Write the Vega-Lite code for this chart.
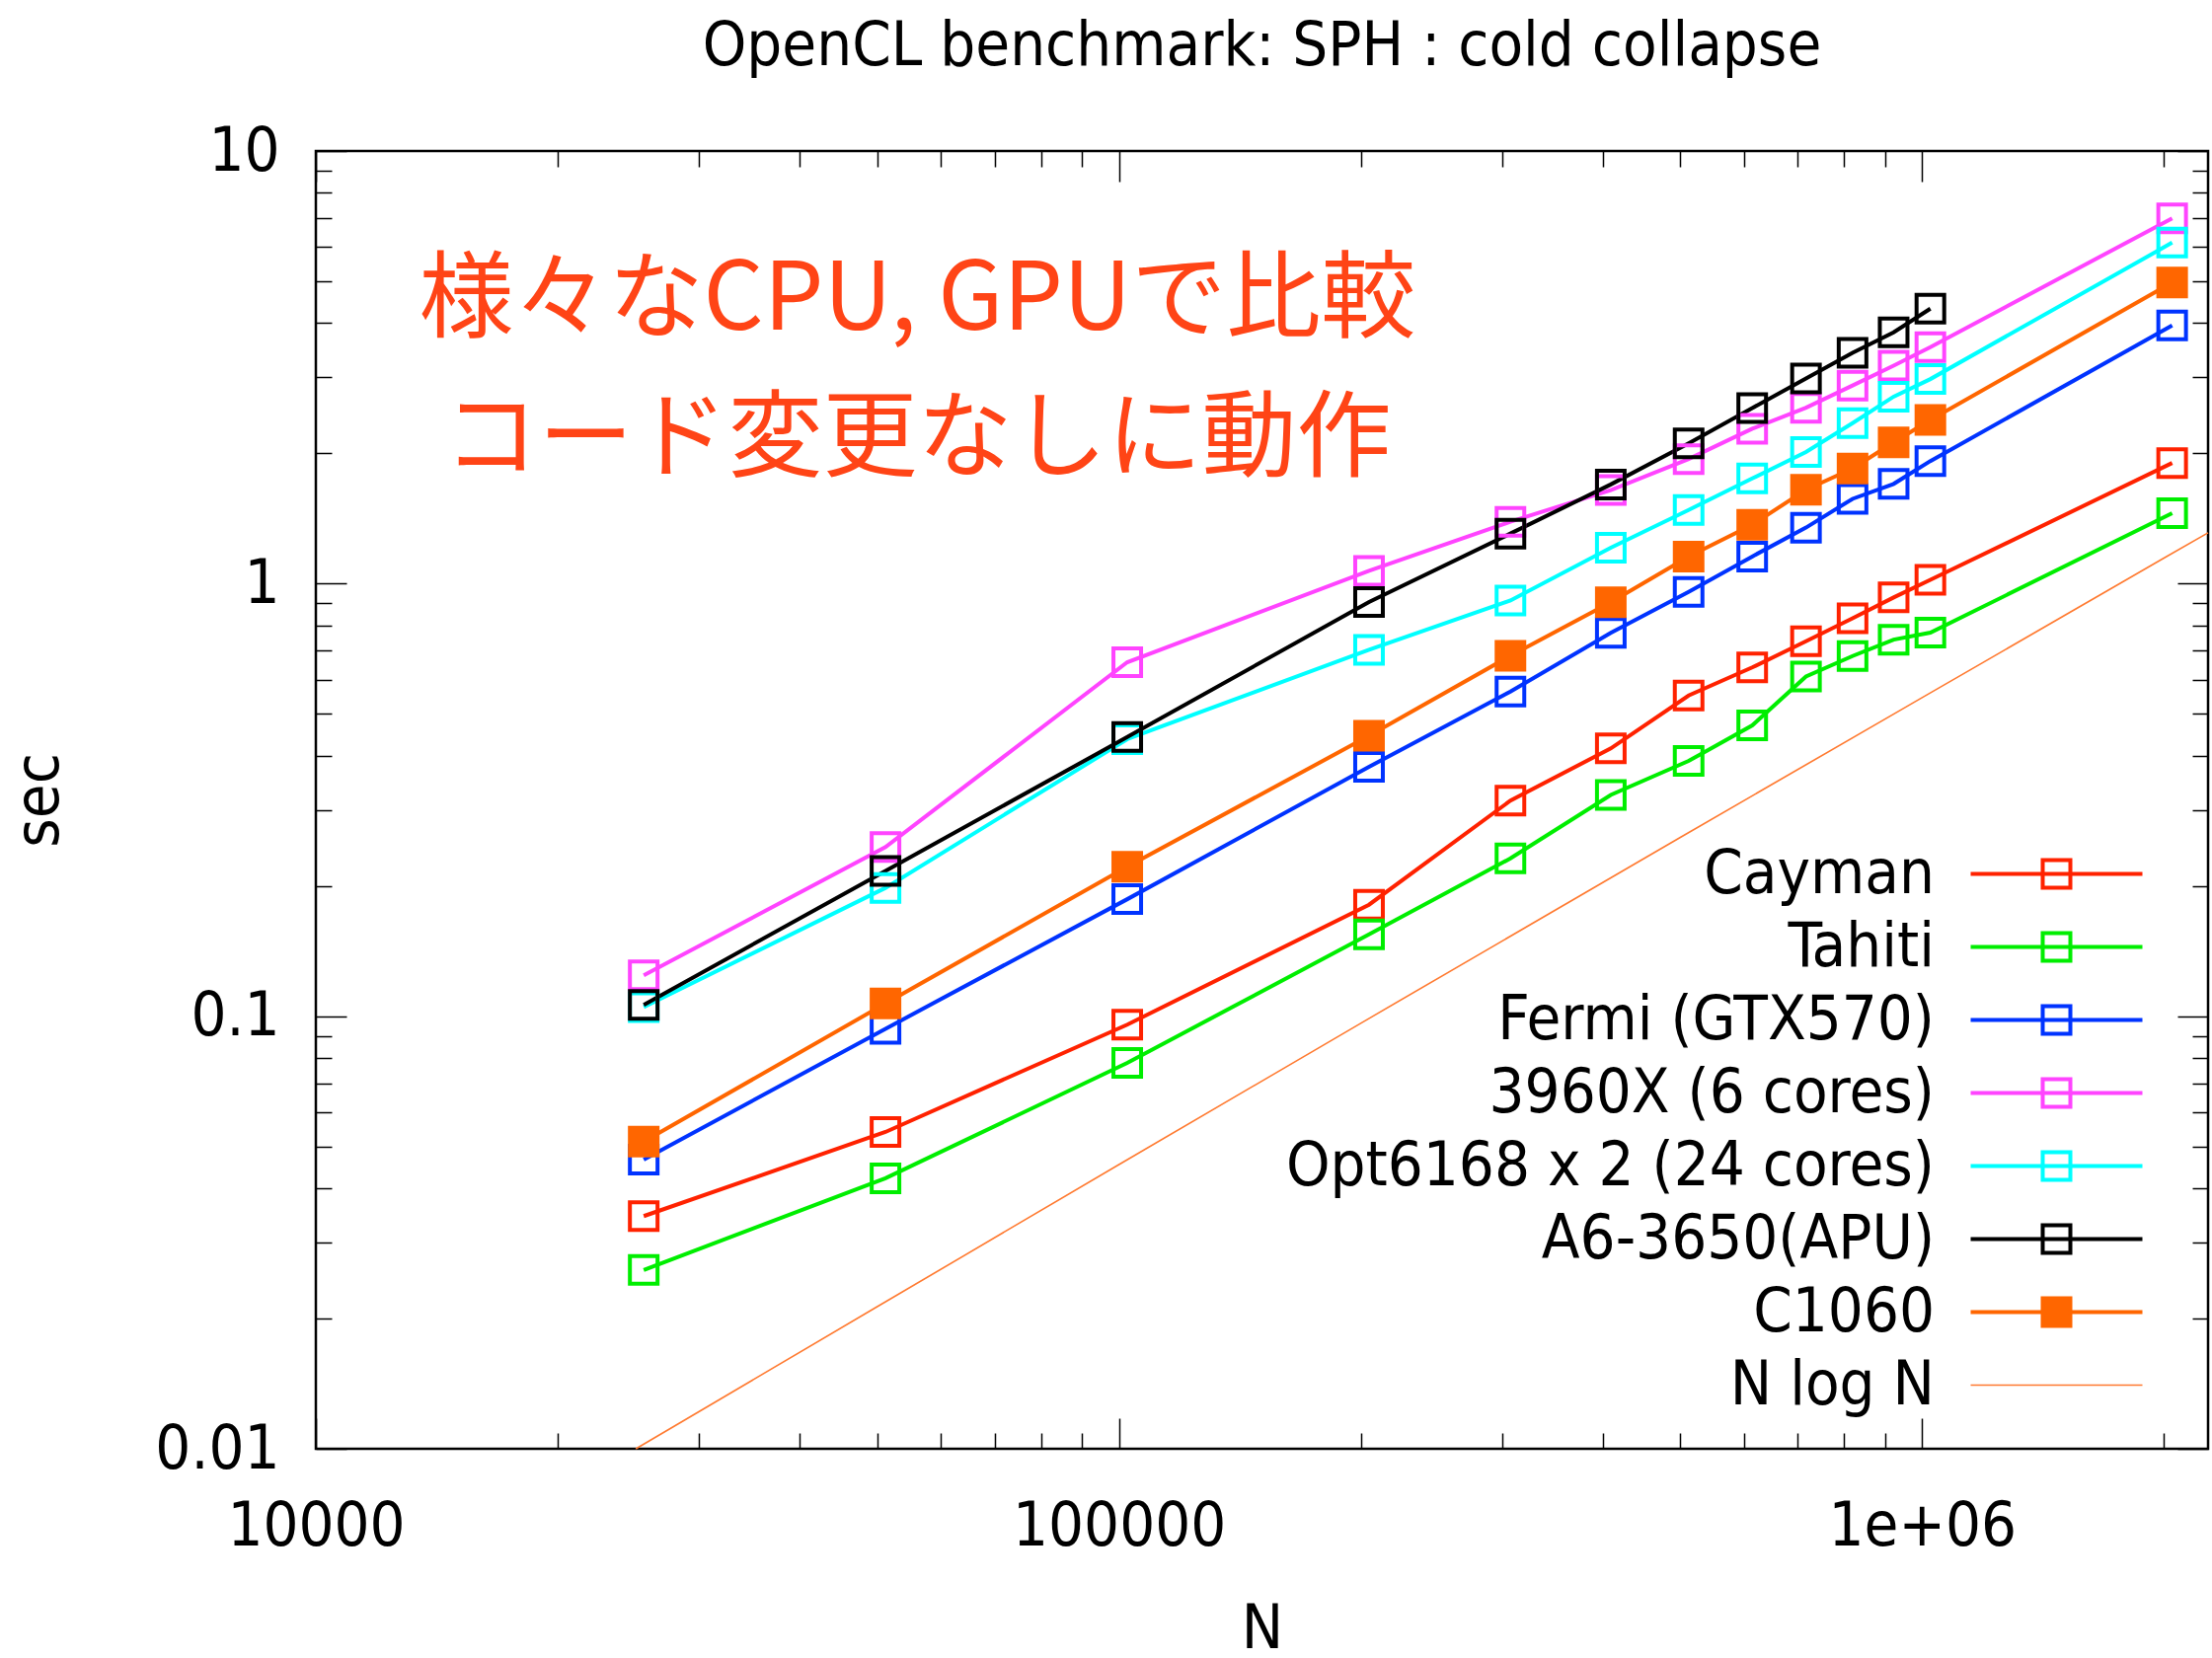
{
  "$schema": "https://vega.github.io/schema/vega-lite/v6.json",
  "width": 1917,
  "height": 1315,
  "autosize": {"type": "none"},
  "padding": {"left": 320, "top": 153, "right": 4, "bottom": 212},
  "background": "white",
  "title": {
    "text": "OpenCL benchmark: SPH : cold collapse",
    "font": "DejaVu Sans Condensed, Liberation Sans",
    "fontSize": 63,
    "fontWeight": "normal",
    "color": "black",
    "anchor": "middle",
    "offset": 43
  },
  "config": {
    "view": {"stroke": "black", "strokeWidth": 2.5},
    "axis": {
      "domain": false,
      "grid": false,
      "tickColor": "black",
      "tickWidth": 1.5,
      "labelFont": "DejaVu Sans Condensed, Liberation Sans",
      "labelFontSize": 63,
      "labelColor": "black",
      "labelLimit": 1000,
      "titleFont": "DejaVu Sans Condensed, Liberation Sans",
      "titleFontSize": 63,
      "titleFontWeight": "normal",
      "titleColor": "black",
      "labelFlush": false,
      "labelOverlap": false
    }
  },
  "datasets": {
    "bench": [
      {"series": "Cayman", "N": 25600, "sec": 0.0345},
      {"series": "Cayman", "N": 51200, "sec": 0.054},
      {"series": "Cayman", "N": 102400, "sec": 0.0956},
      {"series": "Cayman", "N": 204800, "sec": 0.181},
      {"series": "Cayman", "N": 307200, "sec": 0.315},
      {"series": "Cayman", "N": 409600, "sec": 0.416},
      {"series": "Cayman", "N": 512000, "sec": 0.551},
      {"series": "Cayman", "N": 614400, "sec": 0.64},
      {"series": "Cayman", "N": 716800, "sec": 0.736},
      {"series": "Cayman", "N": 819200, "sec": 0.831},
      {"series": "Cayman", "N": 921600, "sec": 0.929},
      {"series": "Cayman", "N": 1024000, "sec": 1.02},
      {"series": "Cayman", "N": 2048000, "sec": 1.9},
      {"series": "Tahiti", "N": 25600, "sec": 0.0259},
      {"series": "Tahiti", "N": 51200, "sec": 0.0422},
      {"series": "Tahiti", "N": 102400, "sec": 0.078},
      {"series": "Tahiti", "N": 204800, "sec": 0.1545},
      {"series": "Tahiti", "N": 307200, "sec": 0.2316},
      {"series": "Tahiti", "N": 409600, "sec": 0.3246},
      {"series": "Tahiti", "N": 512000, "sec": 0.389},
      {"series": "Tahiti", "N": 614400, "sec": 0.47},
      {"series": "Tahiti", "N": 716800, "sec": 0.61},
      {"series": "Tahiti", "N": 819200, "sec": 0.68},
      {"series": "Tahiti", "N": 921600, "sec": 0.742},
      {"series": "Tahiti", "N": 1024000, "sec": 0.77},
      {"series": "Tahiti", "N": 2048000, "sec": 1.455},
      {"series": "Fermi (GTX570)", "N": 25600, "sec": 0.0466},
      {"series": "Fermi (GTX570)", "N": 51200, "sec": 0.0935},
      {"series": "Fermi (GTX570)", "N": 102400, "sec": 0.1864},
      {"series": "Fermi (GTX570)", "N": 204800, "sec": 0.377},
      {"series": "Fermi (GTX570)", "N": 307200, "sec": 0.563},
      {"series": "Fermi (GTX570)", "N": 409600, "sec": 0.769},
      {"series": "Fermi (GTX570)", "N": 512000, "sec": 0.957},
      {"series": "Fermi (GTX570)", "N": 614400, "sec": 1.155},
      {"series": "Fermi (GTX570)", "N": 716800, "sec": 1.347},
      {"series": "Fermi (GTX570)", "N": 819200, "sec": 1.57},
      {"series": "Fermi (GTX570)", "N": 921600, "sec": 1.7},
      {"series": "Fermi (GTX570)", "N": 1024000, "sec": 1.92},
      {"series": "Fermi (GTX570)", "N": 2048000, "sec": 3.95},
      {"series": "3960X (6 cores)", "N": 25600, "sec": 0.1243},
      {"series": "3960X (6 cores)", "N": 51200, "sec": 0.246},
      {"series": "3960X (6 cores)", "N": 102400, "sec": 0.658},
      {"series": "3960X (6 cores)", "N": 204800, "sec": 1.07},
      {"series": "3960X (6 cores)", "N": 307200, "sec": 1.39},
      {"series": "3960X (6 cores)", "N": 409600, "sec": 1.645},
      {"series": "3960X (6 cores)", "N": 512000, "sec": 1.94},
      {"series": "3960X (6 cores)", "N": 614400, "sec": 2.28},
      {"series": "3960X (6 cores)", "N": 716800, "sec": 2.55},
      {"series": "3960X (6 cores)", "N": 819200, "sec": 2.87},
      {"series": "3960X (6 cores)", "N": 921600, "sec": 3.19},
      {"series": "3960X (6 cores)", "N": 1024000, "sec": 3.52},
      {"series": "3960X (6 cores)", "N": 2048000, "sec": 6.99},
      {"series": "Opt6168 x 2 (24 cores)", "N": 25600, "sec": 0.105},
      {"series": "Opt6168 x 2 (24 cores)", "N": 51200, "sec": 0.198},
      {"series": "Opt6168 x 2 (24 cores)", "N": 102400, "sec": 0.437},
      {"series": "Opt6168 x 2 (24 cores)", "N": 204800, "sec": 0.703},
      {"series": "Opt6168 x 2 (24 cores)", "N": 307200, "sec": 0.914},
      {"series": "Opt6168 x 2 (24 cores)", "N": 409600, "sec": 1.21},
      {"series": "Opt6168 x 2 (24 cores)", "N": 512000, "sec": 1.48},
      {"series": "Opt6168 x 2 (24 cores)", "N": 614400, "sec": 1.75},
      {"series": "Opt6168 x 2 (24 cores)", "N": 716800, "sec": 2.015},
      {"series": "Opt6168 x 2 (24 cores)", "N": 819200, "sec": 2.35},
      {"series": "Opt6168 x 2 (24 cores)", "N": 921600, "sec": 2.705},
      {"series": "Opt6168 x 2 (24 cores)", "N": 1024000, "sec": 2.97},
      {"series": "Opt6168 x 2 (24 cores)", "N": 2048000, "sec": 6.14},
      {"series": "A6-3650(APU)", "N": 25600, "sec": 0.1062},
      {"series": "A6-3650(APU)", "N": 51200, "sec": 0.2167},
      {"series": "A6-3650(APU)", "N": 102400, "sec": 0.4418},
      {"series": "A6-3650(APU)", "N": 204800, "sec": 0.907},
      {"series": "A6-3650(APU)", "N": 307200, "sec": 1.305},
      {"series": "A6-3650(APU)", "N": 409600, "sec": 1.695},
      {"series": "A6-3650(APU)", "N": 512000, "sec": 2.11},
      {"series": "A6-3650(APU)", "N": 614400, "sec": 2.545},
      {"series": "A6-3650(APU)", "N": 716800, "sec": 2.98},
      {"series": "A6-3650(APU)", "N": 819200, "sec": 3.415},
      {"series": "A6-3650(APU)", "N": 921600, "sec": 3.81},
      {"series": "A6-3650(APU)", "N": 1024000, "sec": 4.32},
      {"series": "C1060", "N": 25600, "sec": 0.0513},
      {"series": "C1060", "N": 51200, "sec": 0.107},
      {"series": "C1060", "N": 102400, "sec": 0.2215},
      {"series": "C1060", "N": 204800, "sec": 0.4447},
      {"series": "C1060", "N": 307200, "sec": 0.681},
      {"series": "C1060", "N": 409600, "sec": 0.905},
      {"series": "C1060", "N": 512000, "sec": 1.155},
      {"series": "C1060", "N": 614400, "sec": 1.367},
      {"series": "C1060", "N": 716800, "sec": 1.648},
      {"series": "C1060", "N": 819200, "sec": 1.845},
      {"series": "C1060", "N": 921600, "sec": 2.12},
      {"series": "C1060", "N": 1024000, "sec": 2.39},
      {"series": "C1060", "N": 2048000, "sec": 4.965}
    ],
    "nlogn": [
      {"series": "N log N", "N": 25030, "sec": 0.01},
      {"series": "N log N", "N": 50000, "sec": 0.0213},
      {"series": "N log N", "N": 100000, "sec": 0.0454},
      {"series": "N log N", "N": 200000, "sec": 0.0963},
      {"series": "N log N", "N": 500000, "sec": 0.259},
      {"series": "N log N", "N": 1000000, "sec": 0.545},
      {"series": "N log N", "N": 2000000, "sec": 1.145},
      {"series": "N log N", "N": 2270000, "sec": 1.31}
    ],
    "note": [
      {"N": 56100, "sec": 4.5, "text": "様々なCPU, GPUで比較"},
      {"N": 56100, "sec": 2.15, "text": "コード変更なしに動作"}
    ]
  },
  "layer": [
    {
      "data": {"name": "bench"},
      "mark": {"type": "line", "strokeWidth": 4},
      "encoding": {
        "x": {
          "field": "N", "type": "quantitative",
          "scale": {"type": "log", "domain": [10000, 2270000], "nice": false},
          "axis": {
            "orient": "bottom",
            "values": [10000, 100000, 1000000],
            "labelExpr": "datum.value >= 1000000 ? '1e+06' : format(datum.value, 'd')",
            "tickSize": -31,
            "labelBaseline": "alphabetic",
            "labelPadding": 128,
            "labelDx": 6,
            "title": "N",
            "titleY": 201,
            "titleBaseline": "alphabetic"
          }
        },
        "y": {
          "field": "sec", "type": "quantitative",
          "scale": {"type": "log", "domain": [0.01, 10], "nice": false},
          "axis": {
            "orient": "left",
            "values": [0.01, 0.1, 1, 10],
            "format": "~g",
            "tickSize": -31,
            "labelPadding": 68,
            "title": "sec",
            "titleAngle": -90,
            "titleX": -262,
            "titleY": 657.5,
            "titleAlign": "center",
            "titleBaseline": "alphabetic"
          }
        },
        "color": {
          "field": "series", "type": "nominal",
          "scale": {
            "domain": ["Cayman", "Tahiti", "Fermi (GTX570)", "3960X (6 cores)", "Opt6168 x 2 (24 cores)", "A6-3650(APU)", "C1060", "N log N"],
            "range": ["#ff2200", "#00ee00", "#0033ff", "#ff44ff", "#00ffff", "#000000", "#ff6600", "#ff7a30"]
          },
          "legend": {
            "title": null,
            "orient": "none",
            "legendX": 1732,
            "legendY": 701,
            "padding": 0,
            "symbolType": "M-3,0L3,0M-0.483,-0.483L0.483,-0.483L0.483,0.483L-0.483,0.483Z",
            "symbolSize": 3364,
            "symbolStrokeWidth": 4,
            "labelFont": "DejaVu Sans Condensed, Liberation Sans",
            "labelFontSize": 63,
            "labelColor": "black",
            "labelAlign": "right",
            "labelOffset": -155,
            "labelLimit": 1000,
            "rowPadding": 10,
            "encode": {
              "symbols": {
                "update": {
                  "shape": {"signal": "datum.value === 'N log N' ? 'M-3,0L3,0' : 'M-3,0L3,0M-0.483,-0.483L0.483,-0.483L0.483,0.483L-0.483,0.483Z'"},
                  "fill": {"signal": "datum.value === 'C1060' ? '#ff6600' : 'white'"},
                  "fillOpacity": {"signal": "datum.value === 'C1060' ? 1 : 0"},
                  "stroke": {"scale": "color", "field": "value"},
                  "strokeWidth": {"signal": "datum.value === 'N log N' ? 1.6 : 4"},
                  "opacity": {"value": 1}
                }
              }
            }
          }
        }
      }
    },
    {
      "data": {"name": "bench"},
      "transform": [{"filter": "datum.series !== 'C1060'"}],
      "mark": {"type": "point", "shape": "square", "filled": false, "size": 784, "strokeWidth": 4, "opacity": 1},
      "encoding": {
        "x": {
          "field": "N", "type": "quantitative",
          "scale": {"type": "log", "domain": [10000, 2270000], "nice": false},
          "axis": {"orient": "top", "values": [10000, 100000, 1000000], "labels": false, "tickSize": -31, "title": null}
        },
        "y": {
          "field": "sec", "type": "quantitative",
          "scale": {"type": "log", "domain": [0.01, 10], "nice": false},
          "axis": {"orient": "right", "values": [0.01, 0.1, 1, 10], "labels": false, "tickSize": -31, "title": null}
        },
        "color": {"field": "series", "type": "nominal"}
      }
    },
    {
      "data": {"name": "bench"},
      "transform": [{"filter": "datum.series === 'C1060'"}],
      "mark": {"type": "point", "shape": "square", "filled": true, "size": 1024, "opacity": 1},
      "encoding": {
        "x": {
          "field": "N", "type": "quantitative",
          "scale": {"type": "log", "domain": [10000, 2270000], "nice": false},
          "axis": {"orient": "bottom", "values": [20000, 30000, 40000, 50000, 60000, 70000, 80000, 90000, 200000, 300000, 400000, 500000, 600000, 700000, 800000, 900000, 2000000], "labels": false, "tickSize": -16, "title": null}
        },
        "y": {
          "field": "sec", "type": "quantitative",
          "scale": {"type": "log", "domain": [0.01, 10], "nice": false},
          "axis": {"orient": "left", "values": [0.02, 0.03, 0.04, 0.05, 0.06, 0.07, 0.08, 0.09, 0.2, 0.3, 0.4, 0.5, 0.6, 0.7, 0.8, 0.9, 2, 3, 4, 5, 6, 7, 8, 9], "labels": false, "tickSize": -16, "title": null}
        },
        "color": {"field": "series", "type": "nominal"}
      }
    },
    {
      "data": {"name": "nlogn"},
      "mark": {"type": "line", "strokeWidth": 1.6},
      "encoding": {
        "x": {
          "field": "N", "type": "quantitative",
          "scale": {"type": "log", "domain": [10000, 2270000], "nice": false},
          "axis": {"orient": "top", "values": [20000, 30000, 40000, 50000, 60000, 70000, 80000, 90000, 200000, 300000, 400000, 500000, 600000, 700000, 800000, 900000, 2000000], "labels": false, "tickSize": -16, "title": null}
        },
        "y": {
          "field": "sec", "type": "quantitative",
          "scale": {"type": "log", "domain": [0.01, 10], "nice": false},
          "axis": {"orient": "right", "values": [0.02, 0.03, 0.04, 0.05, 0.06, 0.07, 0.08, 0.09, 0.2, 0.3, 0.4, 0.5, 0.6, 0.7, 0.8, 0.9, 2, 3, 4, 5, 6, 7, 8, 9], "labels": false, "tickSize": -16, "title": null}
        },
        "color": {"field": "series", "type": "nominal"}
      }
    },
    {
      "data": {"name": "note"},
      "mark": {"type": "text", "font": "Noto Sans CJK JP", "fontSize": 96, "color": "#ff4416", "align": "center", "baseline": "middle"},
      "encoding": {
        "x": {"field": "N", "type": "quantitative", "scale": {"type": "log", "domain": [10000, 2270000], "nice": false}, "axis": null},
        "y": {"field": "sec", "type": "quantitative", "scale": {"type": "log", "domain": [0.01, 10], "nice": false}, "axis": null},
        "text": {"field": "text"}
      }
    }
  ],
  "resolve": {"axis": {"x": "independent", "y": "independent"}}
}
